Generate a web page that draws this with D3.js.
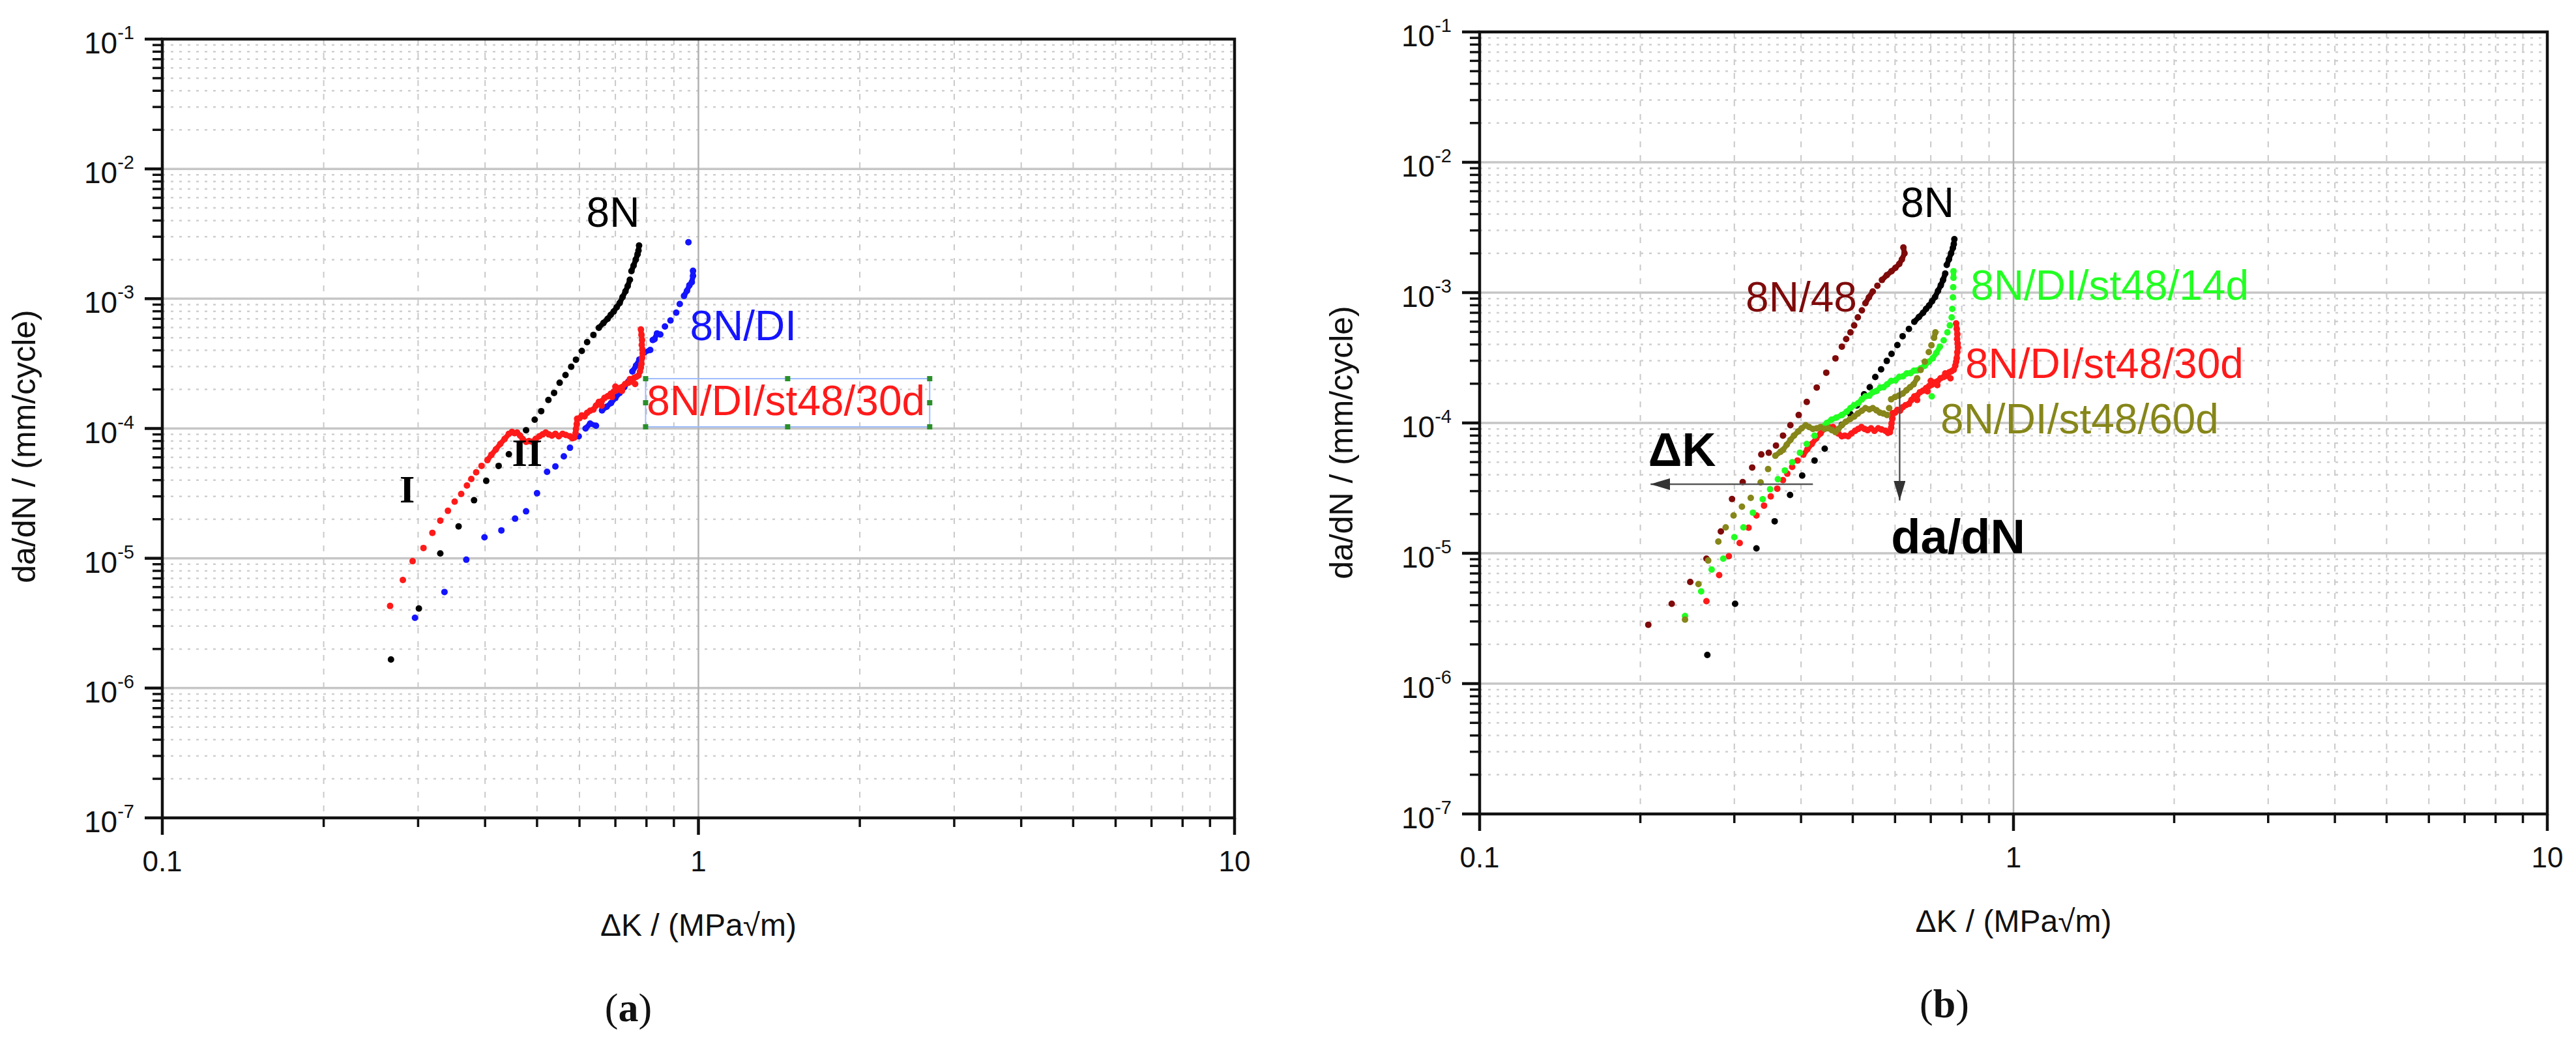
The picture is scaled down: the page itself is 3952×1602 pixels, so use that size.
<!DOCTYPE html>
<html>
<head>
<meta charset="utf-8">
<script src="https://cdn.jsdelivr.net/npm/d3@7"></script>
<style>
  html, body { margin: 0; padding: 0; background: #ffffff; }
  svg { display: block; }
</style>
</head>
<body>
<div id="chart"></div>
<script>
// ---- data: [deltaK (MPa*sqrt(m)), da/dN (mm/cycle)] ----
var s8N = [
  [0.267,1.66e-6],[0.301,4.1e-6],[0.330,1.09e-5],[0.357,1.76e-5],[0.3815,2.8e-5],[0.402,3.95e-5],
  [0.424,5.15e-5],[0.443,6.34e-5],[0.477,9.7e-5],[0.495,1.17e-4],[0.509,1.36e-4],[0.525,1.66e-4],
  [0.538,1.88e-4],[0.551,2.25e-4],[0.565,2.58e-4],[0.579,2.99e-4],[0.591,3.39e-4],[0.606,3.96e-4],
  [0.620,4.63e-4],[0.637,5.26e-4],[0.652,5.97e-4],[0.665,6.5e-4],[0.677,7.0e-4],[0.686,7.5e-4],
  [0.695,7.97e-4],[0.704,8.6e-4],[0.713,9.26e-4],[0.722,1.03e-3],[0.731,1.14e-3],[0.738,1.25e-3],
  [0.745,1.4e-3],[0.750,1.63e-3],[0.757,1.8e-3],[0.764,2.0e-3],[0.770,2.2e-3],[0.773,2.35e-3],[0.775,2.57e-3]
];
var s8N_DI = [
  [0.296,3.48e-6],[0.336,5.5e-6],[0.369,9.75e-6],[0.399,1.45e-5],[0.429,1.64e-5],[0.455,2.02e-5],
  [0.477,2.3e-5],[0.500,3.17e-5],[0.522,4.64e-5],[0.541,5.1e-5],[0.561,6.1e-5],[0.576,7.1e-5],
  [0.598,8.7e-5],[0.616,1.0e-4],[0.628,1.09e-4],[0.644,1.05e-4],[0.661,1.38e-4],[0.674,1.47e-4],
  [0.687,1.57e-4],[0.700,1.72e-4],[0.713,1.88e-4],[0.727,2.08e-4],[0.740,2.3e-4],[0.753,2.75e-4],
  [0.765,3.05e-4],[0.776,3.4e-4],[0.792,3.85e-4],[0.813,4.03e-4],[0.822,4.8e-4],[0.828,4.88e-4],
  [0.837,5.4e-4],[0.849,5.3e-4],[0.866,6.1e-4],[0.887,6.8e-4],[0.909,7.8e-4],[0.923,9.1e-4],
  [0.940,1.05e-3],[0.952,1.15e-3],[0.962,1.27e-3],[0.972,1.34e-3],[0.977,1.5e-3],[0.977,1.64e-3],
  [0.958,2.72e-3]
];
var s8N_DI_30d = [
  [0.266,4.29e-6],[0.281,6.8e-6],[0.293,9.5e-6],[0.307,1.2e-5],[0.319,1.57e-5],[0.330,1.95e-5],
  [0.341,2.32e-5],[0.351,2.73e-5],[0.361,3.13e-5],[0.370,3.64e-5],[0.377,4.08e-5],[0.385,4.6e-5],
  [0.394,5.15e-5],[0.404,5.7e-5],[0.411,6.27e-5],[0.419,6.9e-5],[0.427,7.6e-5],[0.435,8.3e-5],
  [0.443,9.1e-5],[0.449,9.4e-5],[0.454,9.2e-5],[0.459,9.3e-5],[0.465,8.8e-5],[0.470,8.3e-5],
  [0.477,7.9e-5],[0.483,8.0e-5],[0.490,7.9e-5],[0.497,8.3e-5],[0.505,8.7e-5],[0.512,9.0e-5],
  [0.519,9.3e-5],[0.526,9.0e-5],[0.533,8.8e-5],[0.541,9.1e-5],[0.549,8.7e-5],[0.558,9.1e-5],
  [0.566,8.9e-5],[0.576,8.7e-5],[0.582,8.4e-5],[0.587,8.5e-5],[0.590,9.2e-5],[0.591,9.9e-5],
  [0.593,1.08e-4],[0.594,1.19e-4],[0.600,1.2e-4],[0.606,1.26e-4],[0.613,1.24e-4],[0.620,1.32e-4],
  [0.628,1.37e-4],[0.637,1.4e-4],[0.644,1.5e-4],[0.652,1.6e-4],[0.660,1.62e-4],[0.668,1.72e-4],
  [0.677,1.77e-4],[0.686,1.85e-4],[0.695,1.92e-4],[0.703,1.96e-4],[0.712,2.05e-4],[0.721,2.09e-4],
  [0.730,2.2e-4],[0.740,2.25e-4],[0.750,2.3e-4],[0.758,2.45e-4],[0.766,2.5e-4],[0.773,2.56e-4],
  [0.778,2.75e-4],[0.781,2.95e-4],[0.783,3.14e-4],[0.785,3.5e-4],[0.787,3.8e-4],[0.786,4.07e-4],
  [0.784,4.4e-4],[0.785,4.8e-4],[0.783,5.26e-4],[0.781,5.8e-4],
  [0.660,1.5e-4],[0.690,1.75e-4],[0.720,1.95e-4],[0.745,2.4e-4],[0.762,2.2e-4],[0.700,2.1e-4]
];
var s8N_48 = [
  [0.207,2.83e-6],[0.229,4.1e-6],[0.248,6.03e-6],[0.266,9.1e-6],[0.283,1.47e-5],[0.297,2.61e-5],
  [0.311,3.52e-5],[0.324,4.55e-5],[0.337,5.73e-5],[0.348,5.9e-5],[0.359,6.7e-5],[0.370,8.0e-5],
  [0.382,9.6e-5],[0.396,1.15e-4],[0.410,1.45e-4],[0.428,1.87e-4],[0.446,2.43e-4],[0.464,3.13e-4],
  [0.477,3.85e-4],[0.486,4.4e-4],[0.495,4.95e-4],[0.503,5.6e-4],[0.511,6.45e-4],[0.520,7.3e-4],
  [0.528,8.3e-4],[0.536,9.2e-4],[0.545,1.02e-3],[0.556,1.13e-3],[0.567,1.25e-3],[0.579,1.36e-3],
  [0.591,1.46e-3],[0.601,1.55e-3],[0.611,1.66e-3],[0.618,1.8e-3],[0.625,2.0e-3],[0.622,2.22e-3]
];
var s8N_DI_14d = [
  [0.2425,3.3e-6],[0.260,5.1e-6],[0.272,7.5e-6],[0.286,9.1e-6],[0.300,1.33e-5],[0.312,1.58e-5],
  [0.325,2.05e-5],[0.339,2.6e-5],[0.350,3.1e-5],[0.362,3.7e-5],[0.373,4.32e-5],[0.385,5.0e-5],
  [0.398,5.9e-5],[0.410,6.9e-5],[0.424,8.0e-5],[0.438,9.3e-5],[0.447,1.0e-4],[0.456,1.06e-4],
  [0.466,1.1e-4],[0.477,1.15e-4],[0.487,1.22e-4],[0.495,1.3e-4],[0.503,1.37e-4],[0.512,1.42e-4],
  [0.520,1.52e-4],[0.528,1.6e-4],[0.537,1.62e-4],[0.545,1.72e-4],[0.554,1.76e-4],[0.563,1.87e-4],
  [0.571,1.88e-4],[0.580,1.98e-4],[0.590,2.1e-4],[0.601,2.12e-4],[0.611,2.26e-4],[0.621,2.28e-4],
  [0.631,2.4e-4],[0.641,2.41e-4],[0.651,2.52e-4],[0.660,2.53e-4],[0.670,2.62e-4],[0.682,2.75e-4],
  [0.694,2.95e-4],[0.706,3.14e-4],[0.717,3.45e-4],[0.728,3.85e-4],[0.740,4.3e-4],[0.752,4.95e-4],
  [0.760,5.6e-4],[0.766,6.45e-4],[0.768,7.5e-4],[0.770,9.2e-4],[0.771,1.1e-3],[0.772,1.3e-3],
  [0.772,1.46e-3],[0.703,1.6e-4]
];
var s8N_DI_60d = [
  [0.2425,3.1e-6],[0.257,5.8e-6],[0.268,8.8e-6],[0.280,1.23e-5],[0.289,1.58e-5],[0.299,1.95e-5],
  [0.310,2.28e-5],[0.322,2.66e-5],[0.336,3.5e-5],[0.347,4.43e-5],[0.358,5.6e-5],[0.366,6.0e-5],
  [0.370,6.2e-5],[0.376,6.8e-5],[0.382,7.4e-5],[0.388,8.0e-5],[0.395,8.6e-5],[0.401,9.1e-5],
  [0.408,9.6e-5],[0.414,9.3e-5],[0.421,9.0e-5],[0.428,9.1e-5],[0.435,9.3e-5],[0.443,9.0e-5],
  [0.450,9.1e-5],[0.457,8.8e-5],[0.464,8.5e-5],[0.470,9.0e-5],[0.477,9.6e-5],[0.485,1.02e-4],
  [0.494,1.07e-4],[0.503,1.12e-4],[0.511,1.18e-4],[0.520,1.24e-4],[0.528,1.3e-4],[0.537,1.27e-4],
  [0.545,1.3e-4],[0.554,1.25e-4],[0.562,1.2e-4],[0.571,1.18e-4],[0.580,1.15e-4],[0.585,1.3e-4],
  [0.590,1.52e-4],[0.600,1.58e-4],[0.610,1.62e-4],[0.620,1.68e-4],[0.630,1.78e-4],[0.640,1.88e-4],
  [0.650,1.98e-4],[0.660,2.2e-4],[0.670,2.55e-4],[0.682,2.95e-4],[0.694,3.5e-4],[0.702,3.95e-4],
  [0.710,4.5e-4],[0.714,4.95e-4]
];

var xDomain = [0.1, 10];
var yDomain = [1e-7, 1e-1];
var xTickLabels = ["0.1", "1", "10"];
var yTickExponents = [-1, -2, -3, -4, -5, -6, -7];
var xTitle = "\u0394K / (MPa\u221Am)";
var yTitle = "da/dN / (mm/cycle)";

// series and their labels [text, deltaK, da/dN] (label anchor = left end of baseline)
var seriesA = [
  {name:"8N/DI", data:s8N_DI, color:"#1414ff"},
  {name:"8N", data:s8N, color:"#000000"},
  {name:"8N/DI/st48/30d", data:s8N_DI_30d, color:"#ff1a1a"}
];
var labelsA = [
  ["8N", 0.618, 3.58e-3, "#000000"],
  ["8N/DI", 0.964, 4.8e-4, "#1414ff"],
  ["8N/DI/st48/30d", 0.801, 1.27e-4, "#ff1a1a"]
];
var stageLabels = [["I", 0.277, 2.7e-5], ["II", 0.449, 5.15e-5]];
var selBox = [[0.797, 2.70], [1.03e-4, 2.42e-4]];

var seriesB = [
  {name:"8N", data:s8N, color:"#000000"},
  {name:"8N/48", data:s8N_48, color:"#7f0a0a"},
  {name:"8N/DI/st48/30d", data:s8N_DI_30d, color:"#ff1a1a"},
  {name:"8N/DI/st48/14d", data:s8N_DI_14d, color:"#22ff22"},
  {name:"8N/DI/st48/60d", data:s8N_DI_60d, color:"#86861a"}
];
var labelsB = [
  ["8N", 0.615, 3.8e-3, "#000000"],
  ["8N/48", 0.315, 7.16e-4, "#7f0a0a"],
  ["8N/DI/st48/14d", 0.831, 8.8e-4, "#22ff22"],
  ["8N/DI/st48/30d", 0.812, 2.21e-4, "#ff1a1a"],
  ["8N/DI/st48/60d", 0.730, 8.3e-5, "#86861a"]
];
var arrowsB = [
  {from:[0.421, 3.39e-5], to:[0.209, 3.39e-5]},
  {from:[0.612, 1.86e-4], to:[0.612, 2.54e-5]}
];
var boldLabelsB = [["\u0394K", 0.207, 4.68e-5, 72], ["da/dN", 0.59, 1.0e-5, 74]];

// ---- drawing ----
var W = 3952, H = 1602;
var sans = "'Liberation Sans', Arial, Helvetica, sans-serif";
var serif = "'Liberation Serif', 'Times New Roman', serif";

var svg = d3.select("#chart").append("svg")
  .attr("width", W).attr("height", H)
  .style("background", "#ffffff");

function isDecade(v){
  var l = Math.log10(v);
  return Math.abs(l - Math.round(l)) < 1e-9;
}

function drawPanel(p){
  var x = d3.scaleLog().domain(xDomain).range([p.left, p.right]);
  var y = d3.scaleLog().domain(yDomain).range([p.bottom, p.top]);
  var g = svg.append("g");

  var xt = x.ticks();
  var yt = y.ticks();

  //minor grid
  g.selectAll("line.vminor").data(xt.filter(function(d){return !isDecade(d)}))
    .join("line").attr("class","vminor")
    .attr("x1", function(d){return x(d)}).attr("x2", function(d){return x(d)})
    .attr("y1", p.top).attr("y2", p.bottom)
    .attr("stroke", "#c9c9c9").attr("stroke-width", 2).attr("stroke-dasharray", "9,12");
  g.selectAll("line.hminor").data(yt.filter(function(d){return !isDecade(d)}))
    .join("line").attr("class","hminor")
    .attr("y1", function(d){return y(d)}).attr("y2", function(d){return y(d)})
    .attr("x1", p.left).attr("x2", p.right)
    .attr("stroke", "#cfcfcf").attr("stroke-width", 2.5).attr("stroke-dasharray", "4,9");

  //major grid
  g.selectAll("line.hmajor").data(yt.filter(function(d){return isDecade(d) && d > yDomain[0] && d < yDomain[1]}))
    .join("line").attr("class","hmajor")
    .attr("y1", function(d){return y(d)}).attr("y2", function(d){return y(d)})
    .attr("x1", p.left).attr("x2", p.right)
    .attr("stroke", "#c6c6c6").attr("stroke-width", 3.5);
  g.selectAll("line.vmajor").data(xt.filter(function(d){return isDecade(d) && d > xDomain[0] && d < xDomain[1]}))
    .join("line").attr("class","vmajor")
    .attr("x1", function(d){return x(d)}).attr("x2", function(d){return x(d)})
    .attr("y1", p.top).attr("y2", p.bottom)
    .attr("stroke", "#b0b0b0").attr("stroke-width", 2.5);

  //ticks (outward)
  g.selectAll("line.ytick").data(yt).join("line").attr("class","ytick")
    .attr("y1", function(d){return y(d)}).attr("y2", function(d){return y(d)})
    .attr("x1", p.left).attr("x2", function(d){return p.left - (isDecade(d) ? 27 : 15)})
    .attr("stroke", "#111").attr("stroke-width", function(d){return isDecade(d) ? 4.5 : 3.5});
  g.selectAll("line.xtick").data(xt).join("line").attr("class","xtick")
    .attr("x1", function(d){return x(d)}).attr("x2", function(d){return x(d)})
    .attr("y1", p.bottom).attr("y2", function(d){return p.bottom + (isDecade(d) ? 26 : 14)})
    .attr("stroke", "#111").attr("stroke-width", function(d){return isDecade(d) ? 4.5 : 3.5});

  //frame
  g.append("rect").attr("x", p.left).attr("y", p.top)
    .attr("width", p.right - p.left).attr("height", p.bottom - p.top)
    .attr("fill", "none").attr("stroke", "#111").attr("stroke-width", 4.5);

  //tick labels
  var yl = g.selectAll("text.ylab").data(yTickExponents).join("text").attr("class","ylab")
    .attr("x", p.left - 43).attr("y", function(d){return y(Math.pow(10, d)) + 22})
    .attr("text-anchor", "end").attr("font-family", sans).attr("fill", "#111");
  yl.append("tspan").attr("font-size", 46).text("10");
  yl.append("tspan").attr("font-size", 29).attr("dy", -22).text(function(d){return "-" + Math.abs(d)});

  g.selectAll("text.xlab").data(xTickLabels).join("text").attr("class","xlab")
    .attr("x", function(d){return x(+d)}).attr("y", p.bottom + 82)
    .attr("text-anchor", "middle").attr("font-family", sans).attr("font-size", 44).attr("fill", "#111")
    .text(function(d){return d});

  //axis titles
  g.append("text").attr("x", x(1)).attr("y", p.bottom + 181)
    .attr("text-anchor", "middle").attr("font-family", sans).attr("font-size", 48).attr("fill", "#111")
    .text(xTitle);
  g.append("text")
    .attr("transform", "translate(" + (p.left - 195) + "," + p.yTitleMid + ") rotate(-90)")
    .attr("text-anchor", "middle").attr("font-family", sans).attr("font-size", 50).attr("fill", "#111")
    .text(yTitle);

  //panel letter
  var pl = g.append("text").attr("x", p.letterX).attr("y", p.bottom + 312)
    .attr("text-anchor", "middle").attr("font-family", serif).attr("font-size", 62).attr("fill", "#111");
  pl.append("tspan").text("(");
  pl.append("tspan").attr("font-weight", "bold").text(p.letter);
  pl.append("tspan").text(")");

  //series: dots, with overlapping neighbours joined so dense runs read as a band
  p.series.forEach(function(s){
    var sg = g.append("g");
    var segs = [];
    for(var i = 1; i < s.data.length; i++){
      var a = s.data[i-1], b = s.data[i];
      var dist = Math.hypot(x(a[0]) - x(b[0]), y(a[1]) - y(b[1]));
      if(dist < 11){ segs.push([a, b]); }
    }
    sg.selectAll("line").data(segs).join("line")
      .attr("x1", function(d){return x(d[0][0])}).attr("y1", function(d){return y(d[0][1])})
      .attr("x2", function(d){return x(d[1][0])}).attr("y2", function(d){return y(d[1][1])})
      .attr("stroke", s.color).attr("stroke-width", 8).attr("stroke-linecap", "round");
    sg.selectAll("circle").data(s.data).join("circle")
      .attr("cx", function(d){return x(d[0])}).attr("cy", function(d){return y(d[1])})
      .attr("r", 5).attr("fill", s.color);
  });

  //curve labels
  g.selectAll("text.clab").data(p.labels).join("text").attr("class","clab")
    .attr("x", function(d){return x(d[1])}).attr("y", function(d){return y(d[2])})
    .attr("font-family", sans).attr("font-size", 64).attr("fill", function(d){return d[3]})
    .text(function(d){return d[0]});

  return {g:g, x:x, y:y};
}

var A = drawPanel({left:249, right:1894, top:60, bottom:1255, yTitleMid:685, letter:"a", letterX:964,
                   series:seriesA, labels:labelsA});
var B = drawPanel({left:2270, right:3908, top:49, bottom:1249, yTitleMid:679, letter:"b", letterX:2983,
                   series:seriesB, labels:labelsB});

//panel a: stage labels and selected-text box
A.g.selectAll("text.stage").data(stageLabels).join("text").attr("class","stage")
  .attr("x", function(d){return A.x(d[1])}).attr("y", function(d){return A.y(d[2])})
  .attr("font-family", serif).attr("font-weight", "bold").attr("font-size", 60).attr("fill", "#000")
  .text(function(d){return d[0]});

var bx0 = A.x(selBox[0][0]), bx1 = A.x(selBox[0][1]);
var by0 = A.y(selBox[1][1]), by1 = A.y(selBox[1][0]);
A.g.append("rect").attr("x", bx0).attr("y", by0).attr("width", bx1 - bx0).attr("height", by1 - by0)
  .attr("fill", "none").attr("stroke", "#9dbcff").attr("stroke-width", 2);
var handles = [];
[bx0, (bx0 + bx1) / 2, bx1].forEach(function(hx){
  [by0, (by0 + by1) / 2, by1].forEach(function(hy){
    if(!(hx === (bx0 + bx1) / 2 && hy === (by0 + by1) / 2)) handles.push([hx, hy]);
  });
});
A.g.selectAll("rect.handle").data(handles).join("rect").attr("class","handle")
  .attr("x", function(d){return d[0] - 4}).attr("y", function(d){return d[1] - 4})
  .attr("width", 8).attr("height", 8).attr("fill", "#2a8f2a");

//panel b: arrows and bold labels
var defs = svg.append("defs");
defs.append("marker").attr("id", "ah").attr("viewBox", "0 0 10 10")
  .attr("refX", 10).attr("refY", 5).attr("markerWidth", 30).attr("markerHeight", 18)
  .attr("markerUnits", "userSpaceOnUse").attr("orient", "auto")
  .attr("preserveAspectRatio", "none")
  .append("path").attr("d", "M0,0 L10,5 L0,10 z").attr("fill", "#333");

B.g.selectAll("line.arrow").data(arrowsB).join("line").attr("class","arrow")
  .attr("x1", function(d){return B.x(d.from[0])}).attr("y1", function(d){return B.y(d.from[1])})
  .attr("x2", function(d){return B.x(d.to[0])}).attr("y2", function(d){return B.y(d.to[1])})
  .attr("stroke", "#555").attr("stroke-width", 2.5).attr("marker-end", "url(#ah)");

B.g.selectAll("text.bold").data(boldLabelsB).join("text").attr("class","bold")
  .attr("x", function(d){return B.x(d[1])}).attr("y", function(d){return B.y(d[2])})
  .attr("font-family", sans).attr("font-weight", "bold").attr("font-size", function(d){return d[3]})
  .attr("fill", "#000").text(function(d){return d[0]});
</script>
</body>
</html>
